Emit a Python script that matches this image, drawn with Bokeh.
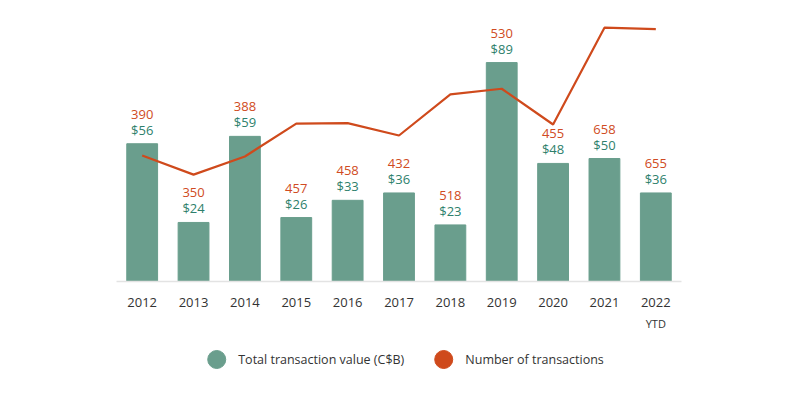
from bokeh.plotting import figure
from bokeh.layouts import column
from bokeh.models import (ColumnDataSource, Range1d, FactorRange, Legend, LegendItem,
                          CategoricalAxis)
from bokeh.core.properties import value
from bokeh.embed import file_html
from bokeh.resources import INLINE

years = ["2012", "2013", "2014", "2015", "2016", "2017", "2018", "2019", "2020", "2021", "2022"]
ytd_text = "YTD"
total_value = [56, 24, 59, 26, 33, 36, 23, 89, 48, 50, 36]
num_transactions = [390, 350, 388, 457, 458, 432, 518, 530, 455, 658, 655]
legend_labels = ["Total transaction value (C$B)", "Number of transactions"]

value_labels = ["$%d" % v for v in total_value]
count_labels = [str(n) for n in num_transactions]
# second tick row: blank under every year except the last, which reads "YTD"
ytd_factors = [" " * (i + 1) for i in range(len(years) - 1)] + [ytd_text]

BAR = "#6a9e8d"
GREEN_TXT = "#2e7f6c"
ORANGE = "#cf4a1c"
ORANGE_TXT = "#d04b22"
FONT = "Open Sans"

src = ColumnDataSource(dict(year=years, val=total_value, cnt=num_transactions,
                            vlab=value_labels, clab=count_labels))

p = figure(x_range=years, width=784, height=333, output_backend="svg",
           toolbar_location=None, min_border_left=116, min_border_right=103,
           min_border_top=20, min_border_bottom=52)
p.y_range = Range1d(0, 106.1)
p.extra_y_ranges = {"cnt": Range1d(126, 673)}
p.extra_x_ranges = {"ytd": FactorRange(factors=ytd_factors)}

p.vbar(x="year", top="val", width=0.6, color=BAR, source=src)
p.line(x="year", y="cnt", y_range_name="cnt", color=ORANGE, line_width=2.2, source=src)

p.text(x="year", y="val", text="vlab", source=src, text_align="center",
       text_baseline="bottom", y_offset=-5, text_color=GREEN_TXT,
       text_font=value(FONT), text_font_size="13px")
p.text(x="year", y="val", text="clab", source=src, text_align="center",
       text_baseline="bottom", y_offset=-25, text_color=ORANGE_TXT,
       text_font=value(FONT), text_font_size="13px")

p.yaxis.visible = False
p.xgrid.visible = False
p.ygrid.visible = False
p.outline_line_color = None
xa = p.xaxis[0]
xa.axis_line_color = "#e3e3e3"
xa.axis_line_width = 1.5
xa.major_tick_line_color = None
xa.minor_tick_line_color = None
xa.major_label_standoff = 10
xa.major_label_text_font = FONT
xa.major_label_text_font_size = "13px"
xa.major_label_text_color = "#333333"

ax2 = CategoricalAxis(x_range_name="ytd", axis_line_color=None,
                      major_tick_line_color=None, minor_tick_line_color=None,
                      major_label_standoff=0, major_label_text_font=FONT,
                      major_label_text_font_size="11px",
                      major_label_text_color="#333333")
p.add_layout(ax2, "below")

# legend in its own strip below the chart
lg = figure(width=784, height=52, output_backend="svg", toolbar_location=None,
            x_range=Range1d(0, 1), y_range=Range1d(0, 1),
            min_border_left=0, min_border_right=26, min_border_top=0, min_border_bottom=0)
lg.axis.visible = False
lg.grid.visible = False
lg.outline_line_color = None
nan = float("nan")
d1 = lg.scatter(x=[nan], y=[nan], color=BAR)
d2 = lg.scatter(x=[nan], y=[nan], color=ORANGE)
legend = Legend(items=[LegendItem(label=legend_labels[0], renderers=[d1]),
                       LegendItem(label=legend_labels[1], renderers=[d2])],
                orientation="horizontal", location="center",
                label_text_font=FONT, label_text_font_size="12.5px",
                label_text_color="#333333", border_line_color=None,
                background_fill_alpha=0,
                glyph_width=45, glyph_height=45, spacing=16, label_standoff=0,
                margin=0, padding=0)
lg.add_layout(legend)

layout = column(p, lg, spacing=0)
open("out.html", "w").write(file_html(layout, INLINE))
